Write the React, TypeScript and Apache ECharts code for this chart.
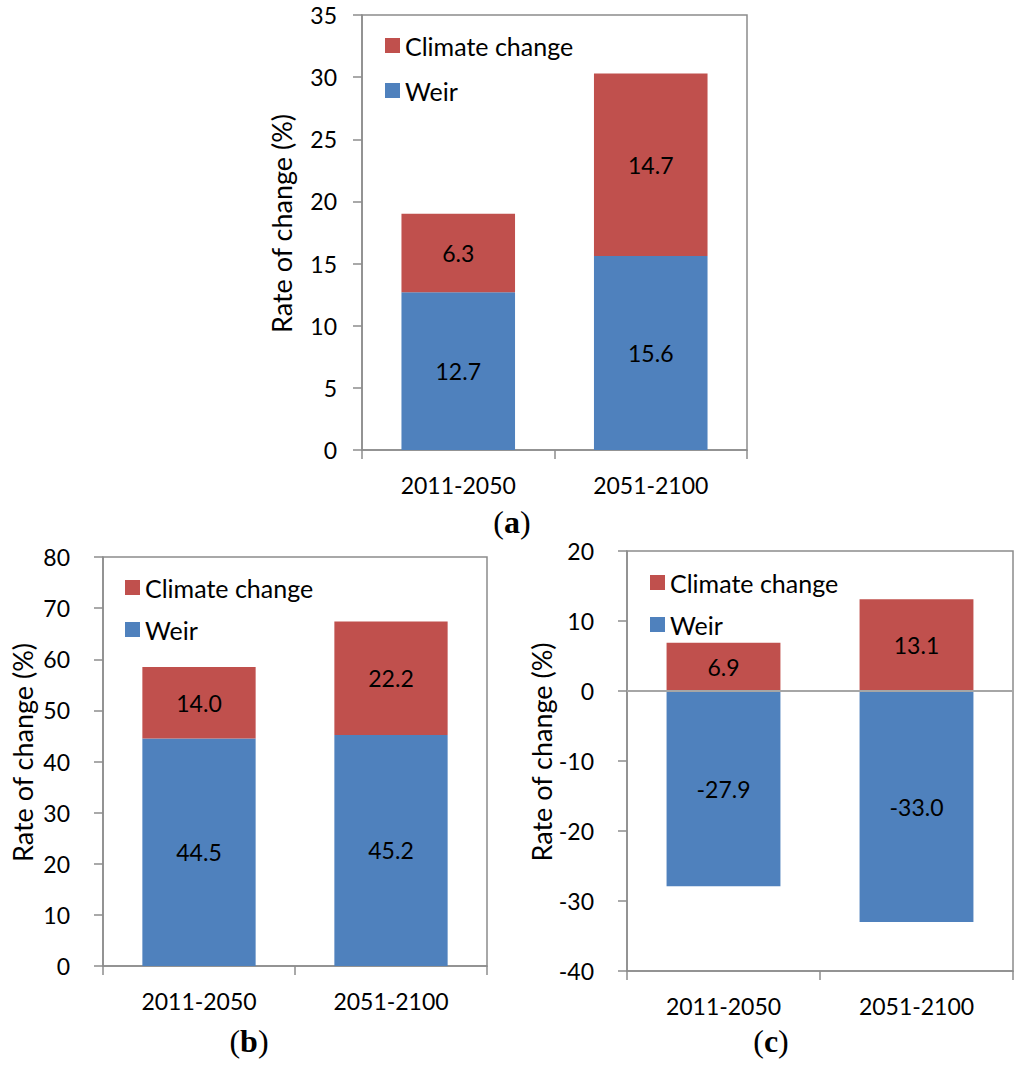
import React, { useEffect, useRef } from "react";
import * as echarts from "echarts";

const categories = ["2011-2050", "2051-2100"];
const weirA = [12.7, 15.6];
const climateA = [6.3, 14.7];
const weirB = [44.5, 45.2];
const climateB = [14.0, 22.2];
const weirC = [-27.9, -33.0];
const climateC = [6.9, 13.1];
const yRangeA = [0, 35, 5];
const yRangeB = [0, 80, 10];
const yRangeC = [-40, 20, 10];
const panelLabels = ["a", "b", "c"];

const RED = "#C0504D";
const BLUE = "#4F81BD";
const GRAY = "#8c8c8c";
const FONT = "Lato";

export default function App() {
  const ref = useRef<HTMLDivElement>(null);
  useEffect(() => {
    if (!ref.current) return;
    const chart = echarts.init(ref.current, null, { renderer: "svg" });
    const grids = [
      { left: 362, top: 15, width: 385, height: 435 },
      { left: 103, top: 557, width: 384, height: 409 },
      { left: 627, top: 551, width: 386, height: 420 },
    ];
    const ranges = [yRangeA, yRangeB, yRangeC];
    const weirs = [weirA, weirB, weirC];
    const climates = [climateA, climateB, climateC];
    const legendPos = [
      { left: 385, red: 38, blue: 83 },
      { left: 125, red: 580, blue: 622 },
      { left: 650, red: 575, blue: 617 },
    ];
    const labelPos = [
      [512, 522],
      [249, 1041],
      [771, 1041],
    ];
    const fmt = (p: any) => Number(p.value).toFixed(1);
    const series: any[] = [];
    grids.forEach((_, i) => {
      series.push({
        name: "Weir",
        type: "bar",
        stack: "s" + i,
        xAxisIndex: i,
        yAxisIndex: i,
        barWidth: "59%",
        data: weirs[i],
        itemStyle: { color: BLUE },
        label: {
          show: true,
          position: "inside",
          formatter: fmt,
          color: "#000",
          fontFamily: FONT,
          fontSize: 23,
        },
        markLine:
          i === 2
            ? {
                silent: true,
                symbol: "none",
                label: { show: false },
                lineStyle: { color: "#a6a6a6", width: 2, type: "solid" },
                data: [{ yAxis: 0 }],
              }
            : undefined,
      });
      series.push({
        name: "Climate change",
        type: "bar",
        stack: "s" + i,
        xAxisIndex: i,
        yAxisIndex: i,
        barWidth: "59%",
        data: climates[i],
        itemStyle: { color: RED },
        label: {
          show: true,
          position: "inside",
          formatter: fmt,
          color: "#000",
          fontFamily: FONT,
          fontSize: 23,
        },
      });
    });
    const legends: any[] = [];
    legendPos.forEach((lp) => {
      legends.push({
        data: ["Climate change"],
        left: lp.left,
        top: lp.red - 5,
        padding: 0,
        itemWidth: 15,
        itemHeight: 15,
        icon: "rect",
        selectedMode: false,
        textStyle: { fontFamily: FONT, fontSize: 25, color: "#000" },
      });
      legends.push({
        data: ["Weir"],
        left: lp.left,
        top: lp.blue - 5,
        padding: 0,
        itemWidth: 15,
        itemHeight: 15,
        icon: "rect",
        selectedMode: false,
        textStyle: { fontFamily: FONT, fontSize: 25, color: "#000" },
      });
    });
    const option: any = {
      animation: false,
      backgroundColor: "#fff",
      grid: grids.map((g) => ({
        ...g,
        show: true,
        borderColor: GRAY,
        borderWidth: 1.5,
        backgroundColor: "transparent",
        containLabel: false,
      })),
      xAxis: grids.map((_, i) => ({
        type: "category",
        gridIndex: i,
        data: categories,
        axisLine: { show: true, onZero: false, lineStyle: { color: GRAY, width: 1.5 } },
        axisTick: { show: true, length: 9, lineStyle: { color: GRAY, width: 1.5 } },
        axisLabel: {
          margin: 23,
          color: "#000",
          fontFamily: FONT,
          fontSize: 23,
        },
      })),
      yAxis: grids.map((_, i) => ({
        type: "value",
        gridIndex: i,
        min: ranges[i][0],
        max: ranges[i][1],
        interval: ranges[i][2],
        name: "Rate of change (%)",
        nameLocation: "middle",
        nameGap: 67,
        nameTextStyle: { fontFamily: FONT, fontSize: 27, color: "#000", padding: [0, 0, 0, 18] },
        axisLine: { show: true, lineStyle: { color: GRAY, width: 1.5 } },
        axisTick: { show: true, length: 9, lineStyle: { color: GRAY, width: 1.5 } },
        splitLine: { show: false },
        axisLabel: {
          margin: i === 0 ? 25 : 33,
          color: "#000",
          fontFamily: FONT,
          fontSize: 23,
        },
      })),
      legend: legends,
      series,
      graphic: panelLabels.map((t, i) => ({
        type: "text",
        x: labelPos[i][0],
        y: labelPos[i][1],
        style: {
          text: "{p|(}{b|" + t + "}{p|)}",
          align: "center",
          verticalAlign: "middle",
          rich: {
            p: { fontFamily: "Liberation Serif", fontSize: 32, fill: "#000" },
            b: { fontFamily: "Liberation Serif", fontSize: 32, fontWeight: "bold", fill: "#000" },
          },
        },
      })),
    };
    chart.setOption(option);
    return () => chart.dispose();
  }, []);
  return (
    <div
      ref={ref}
      style={{ position: "absolute", left: 0, top: 0, width: 1024, height: 1088, background: "#fff" }}
    />
  );
}
